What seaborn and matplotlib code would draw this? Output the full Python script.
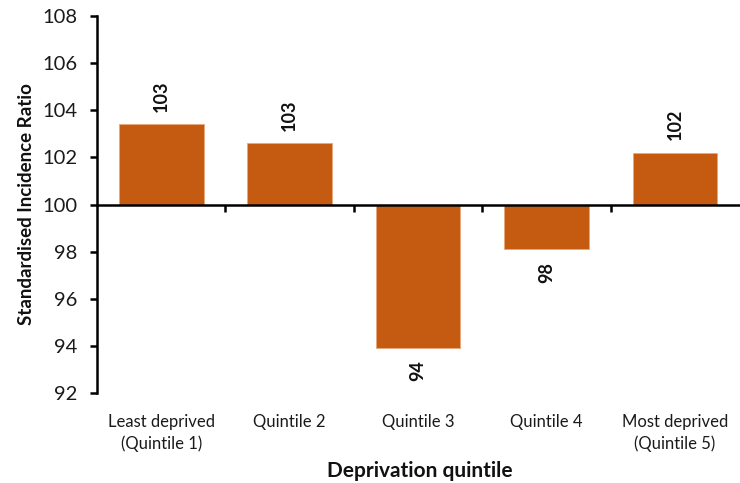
import matplotlib
matplotlib.use("Agg")
import matplotlib.pyplot as plt
import matplotlib.transforms as mtransforms
import seaborn as sns
import pandas as pd

# Standardised incidence ratio by deprivation quintile
categories = ["Least deprived\n(Quintile 1)", "Quintile 2", "Quintile 3",
              "Quintile 4", "Most deprived\n(Quintile 5)"]
sir_values = [103.4, 102.6, 93.9, 98.1, 102.2]
value_labels = ["103", "103", "94", "98", "102"]
y_ticks = [92, 94, 96, 98, 100, 102, 104, 106, 108]
baseline = 100

bar_color = "#C55A11"

sns.set_theme(style="white")
plt.rcParams["font.family"] = ["Lato", "DejaVu Sans"]

df = pd.DataFrame({
    "quintile": categories,
    "sir": sir_values,
    "offset": [v - baseline for v in sir_values],
})

fig = plt.figure(figsize=(7.40, 4.83), dpi=100)
ax = fig.add_axes([0.131, 0.1863, 0.868, 0.7806])

sns.barplot(data=df, x="quintile", y="offset", bottom=baseline, color=bar_color,
            saturation=1, width=0.66, edgecolor="#E9A77C", linewidth=0.6, ax=ax)

ax.set_ylim(92, 108)
ax.set_xlim(-0.5, 4.5)
ax.set_yticks(y_ticks)
ax.set_yticklabels([str(t) for t in y_ticks], fontsize=14.5, color="#1a1a1a")

# Horizontal axis crossing at the reference level of 100
for side in ["top", "right"]:
    ax.spines[side].set_visible(False)
ax.spines["bottom"].set_position(("data", baseline))
ax.spines["bottom"].set_color("black")
ax.spines["bottom"].set_linewidth(1.8)
ax.spines["left"].set_color("black")
ax.spines["left"].set_linewidth(1.8)

ax.tick_params(axis="y", direction="out", length=5, width=1.8, color="black",
               left=True, pad=9)
ax.set_xticks(range(len(categories)))
ax.set_xticklabels([])
ax.tick_params(axis="x", which="major", length=0)
ax.set_xticks([0.5, 1.5, 2.5, 3.5], minor=True)
ax.tick_params(axis="x", which="minor", direction="out", length=5, width=1.8,
               color="black", bottom=True)

# Category names below the plot area
trans = mtransforms.blended_transform_factory(ax.transData, ax.transAxes)
for i, name in enumerate(categories):
    ax.text(i, -0.055, name, transform=trans, ha="center", va="top",
            fontsize=12, color="#1a1a1a", linespacing=1.45)

# Value labels at the end of each bar
for i, (v, lab) in enumerate(zip(sir_values, value_labels)):
    if v >= baseline:
        ax.annotate(lab, (i, v), xytext=(0, 9), textcoords="offset points",
                    rotation=90, ha="center", va="bottom", fontsize=13,
                    fontweight="bold", color="#111111")
    else:
        ax.annotate(lab, (i, v), xytext=(0, -9), textcoords="offset points",
                    rotation=90, ha="center", va="top", fontsize=13,
                    fontweight="bold", color="#111111")

ax.set_xlabel("")
ax.set_ylabel("Standardised Incidence Ratio", fontsize=13.5, fontweight="bold",
              color="#111111", labelpad=5)
fig.text(0.567, 0.024, "Deprivation quintile", ha="center", va="center",
         fontsize=15, fontweight="bold", color="#111111")

fig.savefig("out.png", dpi=100, facecolor="white")
